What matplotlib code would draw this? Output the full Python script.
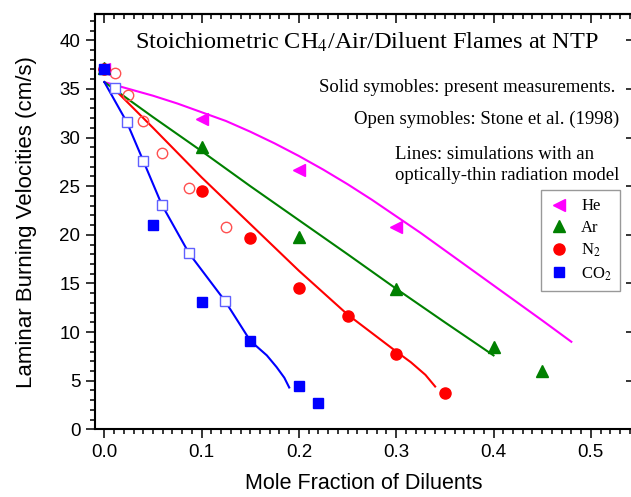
import matplotlib
matplotlib.use("Agg")
import matplotlib.pyplot as plt
from matplotlib.ticker import MultipleLocator

plt.rcParams['font.family'] = ['Liberation Sans', 'DejaVu Sans']
plt.rcParams['mathtext.fontset'] = 'stix'

# ---- data: present measurements (solid symbols) ----
he_x = [0.0, 0.1, 0.2, 0.3]
he_y = [37.0, 31.9, 26.7, 20.8]
ar_x = [0.0, 0.1, 0.2, 0.3, 0.4, 0.45]
ar_y = [37.1, 29.0, 19.8, 14.4, 8.5, 6.0]
n2_x = [0.0, 0.1, 0.15, 0.2, 0.25, 0.3, 0.35]
n2_y = [37.0, 24.5, 19.7, 14.5, 11.7, 7.7, 3.7]
co2_x = [0.0, 0.05, 0.1, 0.15, 0.2, 0.22]
co2_y = [37.0, 21.0, 13.1, 9.1, 4.5, 2.7]

# ---- Stone et al. (1998) (open symbols) ----
stone_n2_x = [0.011, 0.024, 0.040, 0.059, 0.087, 0.125]
stone_n2_y = [36.6, 34.4, 31.7, 28.4, 24.8, 20.8]
stone_co2_x = [0.011, 0.023, 0.040, 0.059, 0.087, 0.124]
stone_co2_y = [35.1, 31.6, 27.6, 23.1, 18.1, 13.2]

# ---- simulations (lines) ----
sim_he_x = [0.0, 0.025, 0.05, 0.075, 0.1, 0.125, 0.15, 0.175, 0.2, 0.225, 0.25,
            0.275, 0.3, 0.325, 0.35, 0.375, 0.4, 0.425, 0.45, 0.48]
sim_he_y = [35.7, 35.0, 34.3, 33.5, 32.6, 31.7, 30.6, 29.4, 28.1, 26.7, 25.2,
            23.6, 21.9, 20.2, 18.4, 16.6, 14.8, 13.0, 11.2, 9.0]
sim_ar_x = [0.0, 0.05, 0.1, 0.15, 0.2, 0.25, 0.3, 0.35, 0.4]
sim_ar_y = [35.7, 32.1, 28.6, 25.0, 21.5, 18.0, 14.45, 11.0, 7.6]
sim_n2_x = [0.01, 0.05, 0.1, 0.15, 0.2, 0.25, 0.275, 0.3, 0.315, 0.33, 0.34]
sim_n2_y = [35.0, 31.0, 25.9, 21.1, 16.3, 11.8, 9.9, 8.0, 6.9, 5.6, 4.4]
sim_co2_x = [0.0, 0.023, 0.040, 0.059, 0.087, 0.124, 0.15, 0.167, 0.177, 0.185, 0.19]
sim_co2_y = [35.7, 31.6, 27.6, 23.1, 18.1, 13.2, 9.1, 7.6, 6.4, 5.3, 4.3]

fig = plt.figure(figsize=(6.31, 4.97), dpi=100)
ax = fig.add_axes([0.1506, 0.1362, 0.8526, 0.8356])

lw = 1.5
ax.plot(sim_he_x, sim_he_y, color='#ff00ff', lw=lw, zorder=2)
ax.plot(sim_ar_x, sim_ar_y, color='#008000', lw=lw, zorder=2)
ax.plot(sim_n2_x, sim_n2_y, color='#ff0000', lw=lw, zorder=2)
ax.plot(sim_co2_x, sim_co2_y, color='#0000ff', lw=lw, zorder=2)

ax.plot(stone_n2_x, stone_n2_y, 'o', ms=7.5, mfc='none', mec='#ff5050', mew=1.0, zorder=3)
ax.plot(stone_co2_x, stone_co2_y, 's', ms=7.2, mfc='white', mec='#6060ff', mew=1.0, zorder=3)

ax.plot(he_x, he_y, '<', ms=9, color='#ff00ff', mec='#ff00ff', ls='none', label='He', zorder=4)
ax.plot(ar_x, ar_y, '^', ms=9, color='#008000', mec='#008000', ls='none', label='Ar', zorder=4)
ax.plot(n2_x, n2_y, 'o', ms=8, color='#ff0000', mec='#ff0000', ls='none', label='N$_2$', zorder=4)
ax.plot(co2_x, co2_y, 's', ms=7.2, color='#0000ff', mec='#0000ff', ls='none', label='CO$_2$', zorder=4)

ax.set_xlim(-0.0096, 0.5434)
ax.set_ylim(0, 42.7)
ax.set_xticks([0.0, 0.1, 0.2, 0.3, 0.4, 0.5])
ax.set_xticklabels(['0.0', '0.1', '0.2', '0.3', '0.4', '0.5'])
ax.xaxis.set_minor_locator(MultipleLocator(0.01))
ax.yaxis.set_major_locator(MultipleLocator(5))
ax.yaxis.set_minor_locator(MultipleLocator(1))

for s in ax.spines.values():
    s.set_linewidth(1.5)
ax.tick_params(which='both', labelsize=13.5, width=1.1, direction='out', pad=4)
ax.tick_params(which='major', length=6.5)
ax.tick_params(which='minor', length=3.4)
# inward ticks on top and right
ax2 = ax.secondary_xaxis('top')
ax2.set_xticks([0.0, 0.1, 0.2, 0.3, 0.4, 0.5])
ax2.xaxis.set_minor_locator(MultipleLocator(0.01))
ax2.tick_params(which='both', direction='in', labeltop=False, width=1.1)
ax2.tick_params(which='major', length=6.5)
ax2.tick_params(which='minor', length=3.4)
ax2.spines['top'].set_linewidth(1.5)
ax3 = ax.secondary_yaxis('right')
ax3.set_yticks([0, 5, 10, 15, 20, 25, 30, 35, 40])
ax3.tick_params(which='both', direction='in', labelright=False, width=1.1, length=5)
ax3.spines['right'].set_linewidth(1.5)

ax.set_xlabel('Mole Fraction of Diluents', fontsize=15.5, labelpad=9)
ax.set_ylabel('Laminar Burning Velocities (cm/s)', fontsize=16, labelpad=16)

serif = ['Liberation Serif', 'DejaVu Serif']
ax.text(0.505, 0.9326, 'Stoichiometric CH$_4$/Air/Diluent Flames at NTP', transform=ax.transAxes,
        ha='center', va='center', fontsize=17.5, family=serif)
ax.text(0.968, 0.822, 'Solid symobles: present measurements.', transform=ax.transAxes,
        ha='right', va='center', fontsize=13.5, family=serif)
ax.text(0.974, 0.747, 'Open symobles: Stone et al. (1998)', transform=ax.transAxes,
        ha='right', va='center', fontsize=13.5, family=serif)
ax.text(0.974, 0.637, 'Lines: simulations with an\noptically-thin radiation model', transform=ax.transAxes,
        ha='right', va='center', fontsize=13.5, family=serif, multialignment='left', linespacing=1.3)

leg = ax.legend(loc='upper left', bbox_to_anchor=(0.829, 0.576), prop={'family': serif, 'size': 12},
                frameon=True, fancybox=False, edgecolor='#808080', handlelength=1.2,
                handletextpad=0.7, borderpad=0.5, labelspacing=0.35, numpoints=1,
                borderaxespad=0)
leg.get_frame().set_linewidth(1.0)

fig.savefig('out.png', dpi=100)
